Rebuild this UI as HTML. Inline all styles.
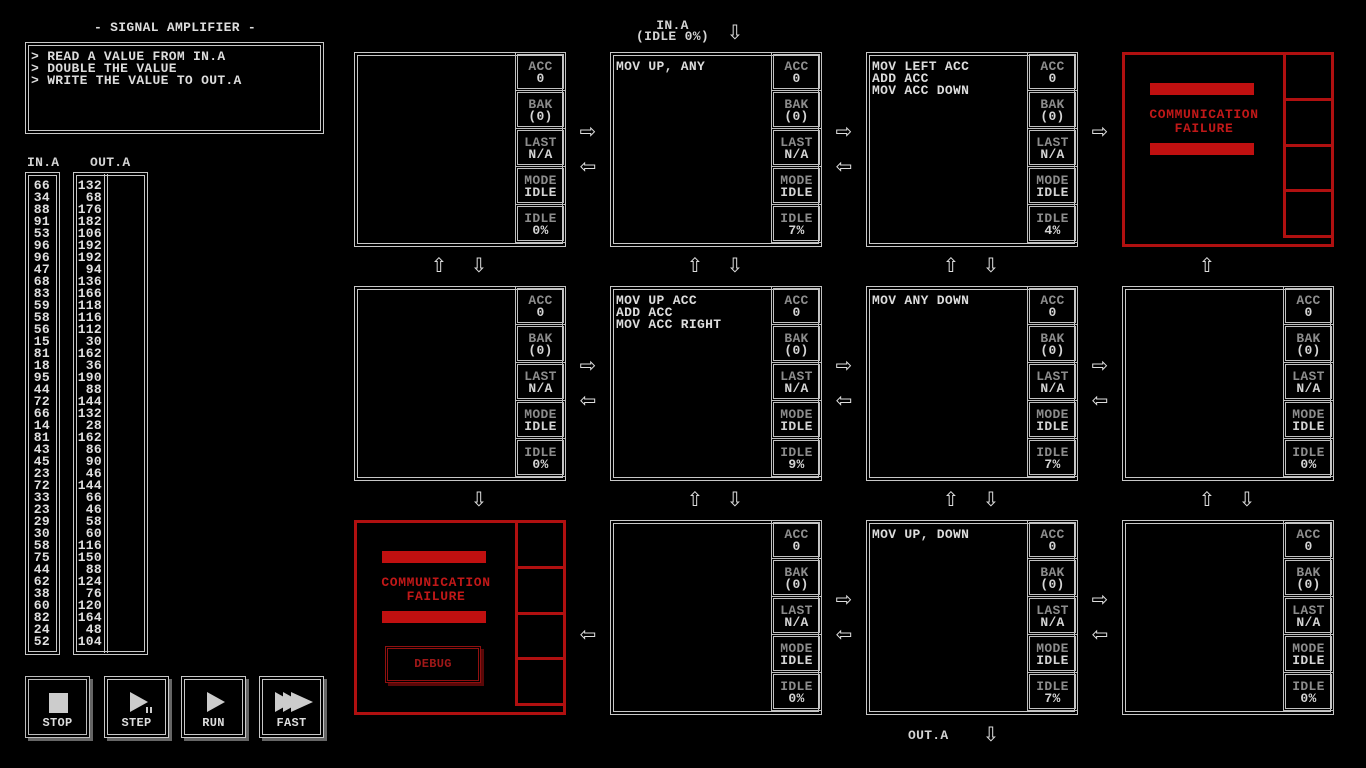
<!DOCTYPE html>
<html><head><meta charset="utf-8"><style>
body{margin:0;width:1366px;height:768px;background:#000;overflow:hidden;position:relative;font-family:"Liberation Mono","DejaVu Sans Mono",monospace;font-weight:bold;font-size:13px;letter-spacing:0.3px;color:#d4d4d4}
.a{position:absolute}
.box{position:absolute;box-sizing:border-box;border:4px double #c8c8c8}
.node{position:absolute;box-sizing:border-box;width:212px;height:195px;border:4px double #c8c8c8}
.code{position:absolute;left:2px;top:5px;line-height:12px;white-space:pre;color:#dcdcdc}
.side{position:absolute;right:-4px;top:-4px;width:51px;height:195px}
.c{box-sizing:border-box;height:39px;border:3px double #c0c0c0;margin-top:-1px;text-align:center;line-height:12px;padding-top:6px}
.c:first-child{margin-top:0}
.c span{color:#8c8c8c;display:block}
.ar{position:absolute;font:20px "DejaVu Sans",sans-serif;color:#ddd;line-height:1;transform:translate(-50%,-50%);letter-spacing:0}
.fail{position:absolute;box-sizing:border-box;width:212px;height:195px;border:3px solid #b01010}
.fside{position:absolute;right:-3px;top:-3px;width:51px;height:195px}
.fside div{box-sizing:border-box;height:48.75px;border:3px solid #b01010;margin-top:-3px}
.fside div:first-child{margin-top:0}
.bar{position:absolute;height:12px;background:#c01010}
.ft{position:absolute;color:#c01818;text-align:center;line-height:14px;font-size:13px;letter-spacing:0.6px}
.list{position:absolute;line-height:12px;text-align:right;white-space:pre;color:#e0e0e0}
.btn{position:absolute;box-sizing:border-box;width:65px;height:62px;border:4px double #c8c8c8;box-shadow:3px 3px 0 #666;text-align:center;color:#ddd;font-size:12px}
.btn .l{position:absolute;left:0;right:0;bottom:4px}
</style></head><body>

<div class="a" style="left:0;width:350px;top:20px;text-align:center;color:#ddd">- SIGNAL AMPLIFIER -</div>
<div class="box" style="left:25px;top:42px;width:299px;height:92px"><div class="code" style="left:2px;top:5px">&gt; READ A VALUE FROM IN.A
&gt; DOUBLE THE VALUE
&gt; WRITE THE VALUE TO OUT.A</div></div>

<div class="a" style="left:27px;top:155px">IN.A</div>
<div class="a" style="left:90px;top:155px">OUT.A</div>
<div class="box" style="left:25px;top:172px;width:35px;height:483px"></div>
<div class="box" style="left:73px;top:172px;width:75px;height:483px"></div>
<div class="a" style="left:104px;top:174px;width:4px;height:479px;border-left:1px solid #c8c8c8;border-right:1px solid #c8c8c8;box-sizing:border-box"></div>
<div class="list" style="left:28px;top:180px;width:22px">66
34
88
91
53
96
96
47
68
83
59
58
56
15
81
18
95
44
72
66
14
81
43
45
23
72
33
23
29
30
58
75
44
62
38
60
82
24
52</div>
<div class="list" style="left:76px;top:180px;width:26px">132
68
176
182
106
192
192
94
136
166
118
116
112
30
162
36
190
88
144
132
28
162
86
90
46
144
66
46
58
60
116
150
88
124
76
120
164
48
104</div>

<div class="btn" style="left:25px;top:676px;border-color:#bbb;border-width:4px;border-style:double"><div class="a" style="left:20px;top:13px;width:19px;height:20px;background:#ccc"></div><div class="l">STOP</div></div>
<div class="btn" style="left:104px;top:676px"><svg class="a" style="left:18px;top:10px" width="30" height="30"><polygon points="4,2 4,22 22,12" fill="#ccc"/><rect x="20" y="17" width="2" height="6" fill="#ccc"/><rect x="24" y="17" width="2" height="6" fill="#ccc"/></svg><div class="l">STEP</div></div>
<div class="btn" style="left:181px;top:676px"><svg class="a" style="left:18px;top:10px" width="30" height="30"><polygon points="4,2 4,22 22,12" fill="#ccc"/></svg><div class="l">RUN</div></div>
<div class="btn" style="left:259px;top:676px"><svg class="a" style="left:8px;top:10px" width="48" height="30"><polygon points="4,2 4,22 22,12" fill="#ccc"/><polygon points="12,2 12,22 30,12" fill="#ccc"/><polygon points="20,2 20,22 42,12" fill="#ccc"/></svg><div class="l">FAST</div></div>

<!-- top labels -->
<div class="a" style="left:615px;width:115px;top:20px;text-align:center;line-height:11px">IN.A<br>(IDLE 0%)</div>
<div class="ar" style="left:735px;top:32px">⇩</div>
<div class="a" style="left:908px;top:728px">OUT.A</div>
<div class="ar" style="left:991px;top:734px">⇩</div>

<!-- Row 1 -->
<div class="node" style="left:354px;top:52px"><div class="side"><div class="c"><span>ACC</span>0</div><div class="c"><span>BAK</span>(0)</div><div class="c"><span>LAST</span>N/A</div><div class="c"><span>MODE</span>IDLE</div><div class="c"><span>IDLE</span>0%</div></div></div>
<div class="node" style="left:610px;top:52px"><div class="code">MOV UP, ANY</div><div class="side"><div class="c"><span>ACC</span>0</div><div class="c"><span>BAK</span>(0)</div><div class="c"><span>LAST</span>N/A</div><div class="c"><span>MODE</span>IDLE</div><div class="c"><span>IDLE</span>7%</div></div></div>
<div class="node" style="left:866px;top:52px"><div class="code">MOV LEFT ACC
ADD ACC
MOV ACC DOWN</div><div class="side"><div class="c"><span>ACC</span>0</div><div class="c"><span>BAK</span>(0)</div><div class="c"><span>LAST</span>N/A</div><div class="c"><span>MODE</span>IDLE</div><div class="c"><span>IDLE</span>4%</div></div></div>
<div class="fail" style="left:1122px;top:52px"><div class="fside"><div></div><div></div><div></div><div></div></div>
<div class="bar" style="left:25px;top:28px;width:104px"></div><div class="ft" style="left:0;width:158px;top:53px">COMMUNICATION<br>FAILURE</div><div class="bar" style="left:25px;top:88px;width:104px"></div></div>

<!-- Row 2 -->
<div class="node" style="left:354px;top:286px"><div class="side"><div class="c"><span>ACC</span>0</div><div class="c"><span>BAK</span>(0)</div><div class="c"><span>LAST</span>N/A</div><div class="c"><span>MODE</span>IDLE</div><div class="c"><span>IDLE</span>0%</div></div></div>
<div class="node" style="left:610px;top:286px"><div class="code">MOV UP ACC
ADD ACC
MOV ACC RIGHT</div><div class="side"><div class="c"><span>ACC</span>0</div><div class="c"><span>BAK</span>(0)</div><div class="c"><span>LAST</span>N/A</div><div class="c"><span>MODE</span>IDLE</div><div class="c"><span>IDLE</span>9%</div></div></div>
<div class="node" style="left:866px;top:286px"><div class="code">MOV ANY DOWN</div><div class="side"><div class="c"><span>ACC</span>0</div><div class="c"><span>BAK</span>(0)</div><div class="c"><span>LAST</span>N/A</div><div class="c"><span>MODE</span>IDLE</div><div class="c"><span>IDLE</span>7%</div></div></div>
<div class="node" style="left:1122px;top:286px"><div class="side"><div class="c"><span>ACC</span>0</div><div class="c"><span>BAK</span>(0)</div><div class="c"><span>LAST</span>N/A</div><div class="c"><span>MODE</span>IDLE</div><div class="c"><span>IDLE</span>0%</div></div></div>

<!-- Row 3 -->
<div class="fail" style="left:354px;top:520px"><div class="fside"><div></div><div></div><div></div><div></div></div>
<div class="bar" style="left:25px;top:28px;width:104px"></div><div class="ft" style="left:0;width:158px;top:53px">COMMUNICATION<br>FAILURE</div><div class="bar" style="left:25px;top:88px;width:104px"></div>
<div class="a" style="left:28px;top:123px;width:96px;height:37px;box-sizing:border-box;border:3px double #901010;box-shadow:3px 3px 0 #5a0808;color:#a01818;text-align:center;line-height:31px;font-size:12px">DEBUG</div></div>
<div class="node" style="left:610px;top:520px"><div class="side"><div class="c"><span>ACC</span>0</div><div class="c"><span>BAK</span>(0)</div><div class="c"><span>LAST</span>N/A</div><div class="c"><span>MODE</span>IDLE</div><div class="c"><span>IDLE</span>0%</div></div></div>
<div class="node" style="left:866px;top:520px"><div class="code">MOV UP, DOWN</div><div class="side"><div class="c"><span>ACC</span>0</div><div class="c"><span>BAK</span>(0)</div><div class="c"><span>LAST</span>N/A</div><div class="c"><span>MODE</span>IDLE</div><div class="c"><span>IDLE</span>7%</div></div></div>
<div class="node" style="left:1122px;top:520px"><div class="side"><div class="c"><span>ACC</span>0</div><div class="c"><span>BAK</span>(0)</div><div class="c"><span>LAST</span>N/A</div><div class="c"><span>MODE</span>IDLE</div><div class="c"><span>IDLE</span>0%</div></div></div>

<!-- horizontal arrows -->
<div class="ar" style="left:588px;top:131px">⇨</div><div class="ar" style="left:588px;top:166px">⇦</div>
<div class="ar" style="left:844px;top:131px">⇨</div><div class="ar" style="left:844px;top:166px">⇦</div>
<div class="ar" style="left:1100px;top:131px">⇨</div>
<div class="ar" style="left:588px;top:365px">⇨</div><div class="ar" style="left:588px;top:400px">⇦</div>
<div class="ar" style="left:844px;top:365px">⇨</div><div class="ar" style="left:844px;top:400px">⇦</div>
<div class="ar" style="left:1100px;top:365px">⇨</div><div class="ar" style="left:1100px;top:400px">⇦</div>
<div class="ar" style="left:588px;top:634px">⇦</div>
<div class="ar" style="left:844px;top:599px">⇨</div><div class="ar" style="left:844px;top:634px">⇦</div>
<div class="ar" style="left:1100px;top:599px">⇨</div><div class="ar" style="left:1100px;top:634px">⇦</div>

<!-- vertical arrows -->
<div class="ar" style="left:439px;top:265px">⇧</div><div class="ar" style="left:479px;top:265px">⇩</div>
<div class="ar" style="left:695px;top:265px">⇧</div><div class="ar" style="left:735px;top:265px">⇩</div>
<div class="ar" style="left:951px;top:265px">⇧</div><div class="ar" style="left:991px;top:265px">⇩</div>
<div class="ar" style="left:1207px;top:265px">⇧</div>
<div class="ar" style="left:479px;top:499px">⇩</div>
<div class="ar" style="left:695px;top:499px">⇧</div><div class="ar" style="left:735px;top:499px">⇩</div>
<div class="ar" style="left:951px;top:499px">⇧</div><div class="ar" style="left:991px;top:499px">⇩</div>
<div class="ar" style="left:1207px;top:499px">⇧</div><div class="ar" style="left:1247px;top:499px">⇩</div>

</body></html>
